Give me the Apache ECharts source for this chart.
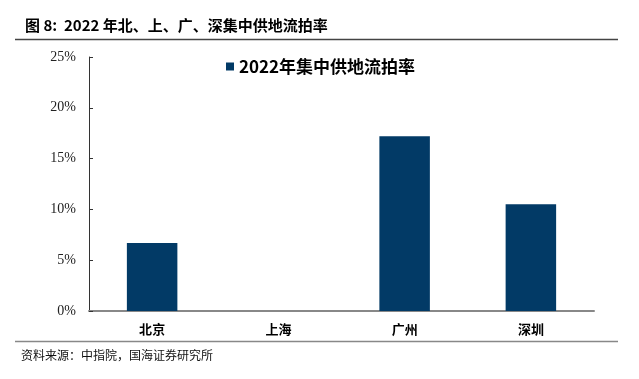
<!DOCTYPE html>
<html>
<head>
<meta charset="utf-8">
<script src="https://cdn.jsdelivr.net/npm/echarts@6/dist/echarts.min.js"></script>
<style>
  html, body { margin: 0; padding: 0; background: #fff; }
  #chart { width: 639px; height: 379px; }
</style>
</head>
<body>
<div id="chart"></div>
<script>
// 2022 land auction failure rate by city (%)
const cities = ['北京', '上海', '广州', '深圳'];
const failRate = [6.7, 0, 17.2, 10.5];
const seriesName = '2022年集中供地流拍率';

const chartTitle = '图 8:  2022 年北、上、广、深集中供地流拍率';
const sourceNote = '资料来源：中指院，国海证券研究所';

const cjk = '"Noto Sans CJK SC", "Noto Sans", sans-serif';
const myChart = echarts.init(document.getElementById('chart'));

const option = {
  animation: false,
  backgroundColor: '#fff',
  grid: { left: 89, right: 45, top: 57, bottom: 68 },
  legend: {
    data: [seriesName],
    left: 221,
    top: 53,
    icon: 'rect',
    itemWidth: 8,
    itemHeight: 8,
    textStyle: { fontFamily: cjk, fontWeight: 'bold', fontSize: 17, color: '#000' }
  },
  xAxis: {
    type: 'category',
    data: cities,
    axisLine: { lineStyle: { color: '#888', width: 2 } },
    axisTick: { show: false },
    axisLabel: { fontFamily: cjk, fontWeight: 'bold', fontSize: 13, color: '#000', margin: 12 }
  },
  yAxis: {
    type: 'value',
    min: 0,
    max: 25,
    interval: 5,
    splitLine: { show: false },
    axisLine: { show: true, lineStyle: { color: '#333', width: 1 } },
    axisTick: { show: true, inside: true, length: 4, lineStyle: { color: '#333' } },
    axisLabel: {
      formatter: '{value}%',
      fontFamily: '"Liberation Serif", "Times New Roman", serif',
      fontSize: 14,
      color: '#222',
      margin: 13
    }
  },
  series: [{
    name: seriesName,
    type: 'bar',
    data: failRate,
    barWidth: '40%',
    itemStyle: { color: '#023a66' }
  }],
  graphic: [
    {
      type: 'text', left: 25, top: 18,
      style: { text: chartTitle, font: 'bold 15px ' + cjk, fill: '#000' }
    },
    {
      type: 'line', shape: { x1: 15, y1: 39.5, x2: 618, y2: 39.5 },
      style: { stroke: '#444', lineWidth: 1.5 }
    },
    {
      type: 'line', shape: { x1: 15, y1: 341.5, x2: 618, y2: 341.5 },
      style: { stroke: '#888', lineWidth: 1.5 }
    },
    {
      type: 'text', left: 21, top: 349,
      style: { text: sourceNote, font: '12px ' + cjk, fill: '#111' }
    }
  ]
};

myChart.setOption(option);
</script>
</body>
</html>
